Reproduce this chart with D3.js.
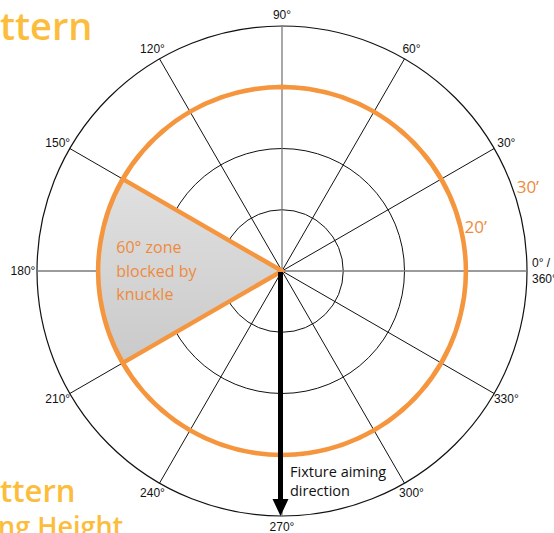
<!DOCTYPE html>
<html><head><meta charset="utf-8">
<script src="https://cdn.jsdelivr.net/npm/d3@7"></script>
<style>html,body{margin:0;padding:0;background:#fff;overflow:hidden}</style>
</head><body>
<svg id="chart" width="554" height="533"></svg>
<script>
// ---- data ----
const angles = [0, 30, 60, 90, 120, 150, 180, 210, 240, 270, 300, 330];
const angleLabels = ["0° /\n360°", "30°", "60°", "90°", "120°", "150°", "180°", "210°", "240°", "270°", "300°", "330°"];
const rings = [1, 2, 3, 4];
const distanceRings = [3, 4];
const distanceLabels = ["20’", "30’"];
const distanceLabelAngles = [13, 19];
const blockedZone = [150, 210];
const blockedText = ["60° zone", "blocked by", "knuckle"];
const aimAngle = 270;
const aimText = ["Fixture aiming", "direction"];
const bgTitleTop = ["ttern"];
const bgTitleBottom = ["ttern", "ng Height"];

// ---- layout ----
const svg = d3.select("#chart");
const cx = 282, cy = 271, R = 245;
const orange = "#f5963f", orangeText = "#ef8a3c", gold = "#fcbd3c";
const rScale = d3.scaleLinear().domain([0, d3.max(rings)]).range([0, R]);
const rad = a => a * Math.PI / 180;
const px = (a, r) => cx + r * Math.cos(rad(a));
const py = (a, r) => cy - r * Math.sin(rad(a));

// background title fragments
svg.append("text").attr("x", 0).attr("y", 40)
  .attr("font-family", "Open Sans").attr("font-weight", 600).attr("font-size", 38)
  .attr("fill", gold).text(bgTitleTop[0]);
svg.selectAll("text.bt").data(bgTitleBottom).join("text").attr("class", "bt")
  .attr("x", (d, i) => i === 0 ? 0 : -2).attr("y", (d, i) => i === 0 ? 502 : 536)
  .attr("font-family", "Open Sans").attr("font-weight", 600).attr("font-size", (d, i) => i === 0 ? 31 : 27)
  .attr("fill", gold).text(d => d);

const g = svg.append("g");

// rings
g.selectAll("circle.ring").data(rings).join("circle").attr("class", "ring")
  .attr("cx", cx).attr("cy", cy).attr("r", d => rScale(d))
  .attr("fill", "none").attr("stroke", "#111").attr("stroke-width", d => d === 4 ? 1.2 : 1);

// radial spokes
g.selectAll("line.spoke").data(angles).join("line").attr("class", "spoke")
  .attr("x1", cx).attr("y1", cy)
  .attr("x2", d => px(d, R)).attr("y2", d => py(d, R))
  .attr("stroke", d => d % 90 === 0 ? "#7a7a7a" : "#111")
  .attr("stroke-width", d => d % 90 === 0 ? 1.3 : 1);

// blocked wedge
const defs = svg.append("defs");
const grad = defs.append("linearGradient").attr("id", "wg").attr("x1", 0).attr("y1", 0).attr("x2", 0).attr("y2", 1);
grad.append("stop").attr("offset", "0%").attr("stop-color", "#e0e0e0");
grad.append("stop").attr("offset", "100%").attr("stop-color", "#cacaca");

const rBlock = rScale(distanceRings[0]);
// d3.arc angles: 0 at top, clockwise. polar a -> arc angle = 90 - a
const toArc = a => rad(90 - a);
const arcGen = d3.arc();
g.append("path")
  .attr("transform", `translate(${cx},${cy})`)
  .attr("d", arcGen({innerRadius: 0, outerRadius: rBlock, startAngle: toArc(blockedZone[1]), endAngle: toArc(blockedZone[0])}))
  .attr("fill", "url(#wg)").attr("stroke", "#a8a8a8").attr("stroke-width", 0.8);

// orange 20' ring arc (excluding blocked zone)
g.append("path")
  .attr("transform", `translate(${cx},${cy})`)
  .attr("d", d3.arc()({innerRadius: rBlock, outerRadius: rBlock, startAngle: toArc(blockedZone[0]), endAngle: toArc(blockedZone[1]) - 2 * Math.PI}))
  .attr("fill", "none").attr("stroke", orange).attr("stroke-width", 4.5);

// wedge edges
g.selectAll("line.edge").data(blockedZone).join("line").attr("class", "edge")
  .attr("x1", cx).attr("y1", cy)
  .attr("x2", d => px(d, rBlock)).attr("y2", d => py(d, rBlock))
  .attr("stroke", orange).attr("stroke-width", 4.5).attr("stroke-linecap", "round");

// aiming arrow
const headLen = 17, headHalf = 8;
const tipX = px(aimAngle, R), tipY = py(aimAngle, R);
g.append("line")
  .attr("x1", cx - 1.5).attr("y1", cy + 1).attr("x2", tipX - 1.5).attr("y2", tipY - headLen + 1)
  .attr("stroke", "#000").attr("stroke-width", 5);
g.append("path")
  .attr("d", `M${tipX - 1.5 - headHalf},${tipY - headLen} L${tipX - 1.5 + headHalf},${tipY - headLen} L${tipX - 1.5},${tipY} Z`)
  .attr("fill", "#000");

// angle labels
const lab = g.selectAll("text.ang").data(angles).join("text").attr("class", "ang")
  .attr("font-family", "Liberation Sans, Arial, sans-serif").attr("font-size", 12).attr("fill", "#111");
lab.each(function(d, i) {
  const t = d3.select(this);
  const lines = angleLabels[i].split("\n");
  if (d === 0) {
    t.attr("text-anchor", "start");
    lines.forEach((s, k) => t.append("tspan").attr("x", px(d, R) + 5).attr("y", py(d, R) - 4 + k * 16).text(s));
  } else {
    t.attr("text-anchor", "middle").attr("dominant-baseline", "central")
      .attr("x", px(d, R + 14)).attr("y", py(d, R + 11)).text(lines[0]);
  }
});

// distance labels
g.selectAll("text.dist").data(distanceRings).join("text").attr("class", "dist")
  .attr("x", (d, i) => px(distanceLabelAngles[i], rScale(d) + 15))
  .attr("y", (d, i) => py(distanceLabelAngles[i], rScale(d) + 15))
  .attr("text-anchor", "middle").attr("dominant-baseline", "central")
  .attr("font-family", "Open Sans").attr("font-size", 17).attr("fill", orangeText)
  .text((d, i) => distanceLabels[i]);

// blocked zone text
g.selectAll("text.blk").data(blockedText).join("text").attr("class", "blk")
  .attr("x", px(180, rBlock) + 18).attr("y", (d, i) => cy - 18 + i * 23.5)
  .attr("font-family", "Open Sans").attr("font-size", 16).attr("fill", orangeText)
  .text(d => d);

// aiming text
g.selectAll("text.aim").data(aimText).join("text").attr("class", "aim")
  .attr("x", cx + 8).attr("y", (d, i) => 477 + i * 18.5)
  .attr("font-family", "Open Sans").attr("font-size", 14.5).attr("fill", "#111")
  .text(d => d);
</script>
</body></html>
